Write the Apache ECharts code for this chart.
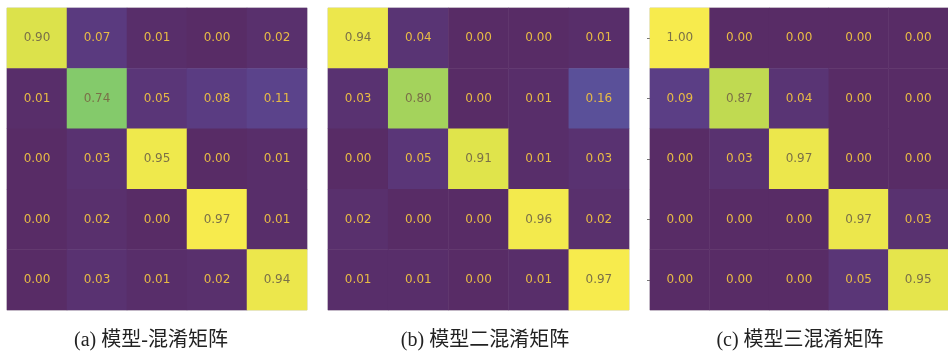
<!DOCTYPE html>
<html>
<head>
<meta charset="utf-8">
<script src="https://cdn.jsdelivr.net/npm/echarts@6/dist/echarts.min.js"></script>
<style>
  html, body { margin: 0; padding: 0; background: #fff; }
  #chart { width: 948px; height: 352px; }
</style>
</head>
<body>
<div id="chart"></div>
<script>
// class indices (no labels shown in the picture)
const classes = ['0', '1', '2', '3', '4']

// confusion matrices, row = true class, col = predicted
const matrixA = [
  [0.90, 0.07, 0.01, 0.00, 0.02],
  [0.01, 0.74, 0.05, 0.08, 0.11],
  [0.00, 0.03, 0.95, 0.00, 0.01],
  [0.00, 0.02, 0.00, 0.97, 0.01],
  [0.00, 0.03, 0.01, 0.02, 0.94]
]
const matrixB = [
  [0.94, 0.04, 0.00, 0.00, 0.01],
  [0.03, 0.80, 0.00, 0.01, 0.16],
  [0.00, 0.05, 0.91, 0.01, 0.03],
  [0.02, 0.00, 0.00, 0.96, 0.02],
  [0.01, 0.01, 0.00, 0.01, 0.97]
]
const matrixC = [
  [1.00, 0.00, 0.00, 0.00, 0.00],
  [0.09, 0.87, 0.04, 0.00, 0.00],
  [0.00, 0.03, 0.97, 0.00, 0.00],
  [0.00, 0.00, 0.00, 0.97, 0.03],
  [0.00, 0.00, 0.00, 0.05, 0.95]
]

const captions = ['(a) 模型-混淆矩阵', '(b) 模型二混淆矩阵', '(c) 模型三混淆矩阵']

// washed-out viridis, as in the scanned figure
const palette = ['#582c66', '#5b4088', '#5a58a2', '#4f6ca2', '#45839f', '#3f999b',
  '#47ae8f', '#68c279', '#95cf62', '#d2df4a', '#f7eb4d']

const matrices = [matrixA, matrixB, matrixC]
const grids = [
  { left: 7, top: 8, width: 300, height: 302 },
  { left: 328, top: 8, width: 301, height: 302 },
  { left: 650, top: 8, width: 300, height: 302 }
]
const captionX = [146, 480, 795]

function toCells(m) {
  const out = []
  m.forEach((row, y) => {
    row.forEach((v, x) => {
      out.push({
        value: [x, y, v],
        label: { color: v > 0.5 ? '#7a7048' : '#e8bb45' }
      })
    })
  })
  return out
}

const chart = echarts.init(document.getElementById('chart'))

chart.setOption({
  backgroundColor: '#fff',
  animation: false,
  title: captions.map((t, i) => ({
    text: t,
    left: captionX[i],
    top: 326,
    textAlign: 'center',
    textStyle: {
      fontFamily: '"Liberation Serif", "Noto Sans CJK SC", serif',
      fontSize: 20,
      fontWeight: 'normal',
      color: '#222'
    }
  })),
  grid: grids.map(g => Object.assign({
    show: true,
    borderColor: '#cfcfcf',
    borderWidth: 1,
    containLabel: false
  }, g)),
  xAxis: matrices.map((m, i) => ({
    type: 'category',
    gridIndex: i,
    data: classes,
    axisLine: { show: false },
    axisTick: { show: false },
    axisLabel: { show: false },
    splitLine: { show: false }
  })),
  yAxis: matrices.map((m, i) => ({
    type: 'category',
    gridIndex: i,
    data: classes,
    inverse: true,
    axisLine: { show: false },
    axisTick: { show: i === 2, alignWithLabel: true, length: 3, lineStyle: { color: '#777' } },
    axisLabel: { show: false },
    splitLine: { show: false }
  })),
  visualMap: matrices.map((m, i) => ({
    show: false,
    type: 'continuous',
    seriesIndex: i,
    dimension: 2,
    min: 0,
    max: Math.max(...m.flat()),
    inRange: { color: palette }
  })),
  series: matrices.map((m, i) => ({
    type: 'heatmap',
    xAxisIndex: i,
    yAxisIndex: i,
    data: toCells(m),
    itemStyle: { borderWidth: 0 },
    label: {
      show: true,
      fontFamily: '"DejaVu Sans", sans-serif',
      fontSize: 12,
      formatter: p => p.value[2].toFixed(2)
    },
    emphasis: { disabled: true }
  }))
})
</script>
</body>
</html>
